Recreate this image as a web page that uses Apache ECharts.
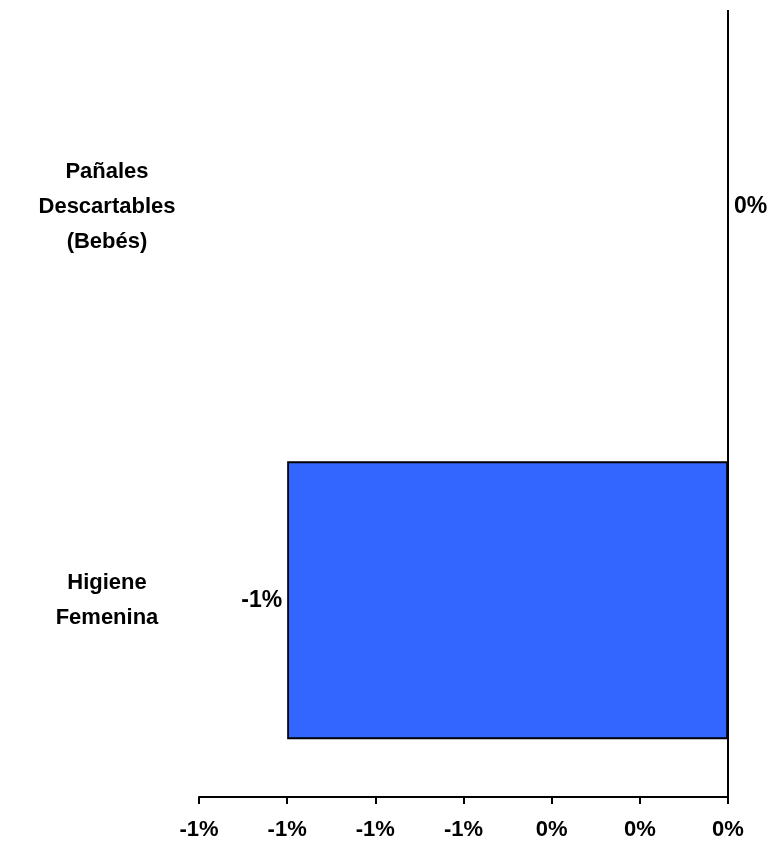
<!DOCTYPE html>
<html>
<head>
<meta charset="utf-8">
<script src="https://cdn.jsdelivr.net/npm/echarts@6/dist/echarts.min.js"></script>
<style>html,body{margin:0;padding:0;background:#fff;}#c{width:774px;height:845px;}</style>
</head>
<body>
<div id="c"></div>
<script>
// Data (values in percent)
var categories = ['Higiene\nFemenina', 'Pañales\nDescartables\n(Bebés)'];
var values = [-1.0, 0.0];
var valueLabels = ['-1%', '0%'];
var axisMin = -1.2, axisMax = 0, axisStep = 0.2;

var chart = echarts.init(document.getElementById('c'));
var font = '"Liberation Sans", Arial, sans-serif';
chart.setOption({
  animation: false,
  backgroundColor: '#fff',
  grid: { left: 199, right: 46, top: 10, bottom: 48 },
  xAxis: {
    type: 'value', min: axisMin, max: axisMax, interval: axisStep,
    axisLine: { show: true, lineStyle: { color: '#000', width: 2 } },
    axisTick: { show: true, length: 7, lineStyle: { color: '#000', width: 2 } },
    splitLine: { show: false },
    axisLabel: {
      margin: 22, color: '#000', fontFamily: font, fontWeight: 'bold', fontSize: 22,
      formatter: function (v) { var r = Math.round(v); if (r === 0) r = 0; return r + '%'; }
    }
  },
  yAxis: {
    type: 'category', data: categories,
    axisLine: { show: false, onZero: false },
    axisTick: { show: false },
    axisLabel: {
      margin: 92, align: 'center', color: '#000', fontFamily: font, fontWeight: 'bold',
      fontSize: 22, lineHeight: 35, padding: [4, 0, 0, 0]
    }
  },
  series: [{
    type: 'bar',
    barWidth: '70.6%',
    data: values.map(function (v, i) {
      return {
        value: v,
        label: { position: v < 0 ? 'left' : 'right', formatter: valueLabels[i] }
      };
    }),
    itemStyle: { color: '#3366FF', borderColor: '#000', borderWidth: 1.8 },
    label: {
      show: true, distance: 5, color: '#000', fontFamily: font, fontWeight: 'bold', fontSize: 23
    },
    markLine: {
      silent: true, symbol: 'none', label: { show: false },
      lineStyle: { color: '#000', width: 2, type: 'solid' },
      data: [{ xAxis: 0 }]
    }
  }]
});
</script>
</body>
</html>
